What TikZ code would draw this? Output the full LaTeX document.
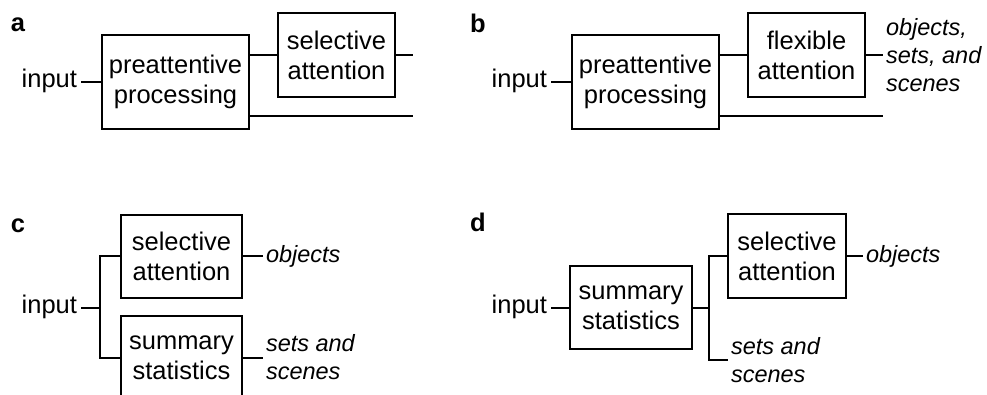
\documentclass[tikz,border=0pt]{standalone}
\usepackage{fontspec}
\setmainfont{Liberation Sans}

\begin{document}
\fontsize{25.5}{30}\selectfont
\begin{tikzpicture}[x=1pt,y=-1pt,line width=2pt,
  box/.style={draw,align=center,inner sep=0pt},
  inp/.style={anchor=base east,inner sep=3pt},
  outtext/.style={font=\fontsize{23.5}{28}\selectfont\itshape,align=left,anchor=west,inner sep=2pt},
  lbl/.style={font=\bfseries}]
\clip (0,0) rectangle (987,395);

% a
\node[lbl] (a) at (18,25) {a};
\node[inp] (a-in) at (81,88) {input};
\node[box,minimum width=147,minimum height=94] (a-pre) at (175.5,82) {preattentive\\processing};
\node[box,minimum width=117,minimum height=84] (a-sel) at (336.5,55) {selective\\attention};
\coordinate (a-o1) at (413,55);
\coordinate (a-o2) at (413,116);

\draw (a-in.east |- a-pre.west) -- (a-pre.west);
\draw (a-sel.west -| a-pre.east) -- (a-sel.west);
\draw (a-sel.east) -- (a-o1);
\draw (a-o2 -| a-pre.east) -- (a-o2);

% b
\node[lbl] (b) at (478,23) {b};
\node[inp] (b-in) at (551,88) {input};
\node[box,minimum width=147,minimum height=94] (b-pre) at (645.5,82) {preattentive\\processing};
\node[box,minimum width=117,minimum height=84] (b-flex) at (806.5,55) {flexible\\attention};
\node[outtext] (b-out) at (883,55) {objects,\\sets, and\\scenes};
\coordinate (b-o2) at (883,116);

\draw (b-in.east |- b-pre.west) -- (b-pre.west);
\draw (b-flex.west -| b-pre.east) -- (b-flex.west);
\draw (b-flex.east) -- (b-out.west);
\draw (b-o2 -| b-pre.east) -- (b-o2);

% c
\node[lbl] (c) at (18,226) {c};
\node[inp] (c-in) at (81,313) {input};
\coordinate (c-j) at (100,308);
\node[box,minimum width=121,minimum height=83] (c-sel) at (181.5,256.5) {selective\\attention};
\node[box,minimum width=121,minimum height=83] (c-sum) at (181.5,357.5) {summary\\statistics};
\node[outtext] (c-o1) at (263,256.5) {objects};
\node[outtext] (c-o2) at (263,357.5) {sets and\\scenes};

\draw (c-in.east |- c-j) -- (c-j);
\draw (c-sel.west) -| (c-j) |- (c-sum.west);
\draw (c-sel.east) -- (c-o1.west);
\draw (c-sum.east) -- (c-o2.west);

% d
\node[lbl] (d) at (478,222.5) {d};
\node[inp] (d-in) at (551,313) {input};
\node[box,minimum width=122,minimum height=83] (d-sum) at (631,307.5) {summary\\statistics};
\coordinate (d-j) at (709,307.5);
\node[box,minimum width=118,minimum height=84] (d-sel) at (787,256) {selective\\attention};
\node[outtext] (d-o1) at (863,256) {objects};
\node[outtext] (d-o2) at (728,360) {sets and\\scenes};

\draw (d-in.east |- d-sum.west) -- (d-sum.west);
\draw (d-sum.east) -- (d-j);
\draw (d-sel.west) -| (d-j) |- (d-o2.west);
\draw (d-sel.east) -- (d-o1.west);
\end{tikzpicture}
\end{document}
